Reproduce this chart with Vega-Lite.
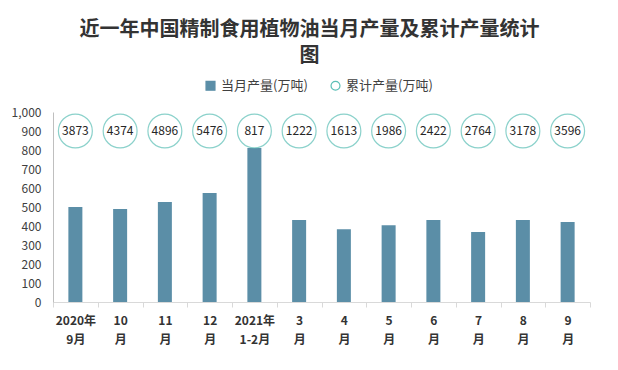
{
  "$schema": "https://vega.github.io/schema/vega-lite/v6.json",
  "width": 537,
  "height": 190,
  "autosize": "none",
  "padding": {"left": 53, "top": 112, "right": 28, "bottom": 68},
  "background": "white",
  "config": {
    "view": {"stroke": null},
    "font": "Noto Sans CJK SC",
    "axisY": {
      "title": null,
      "format": ",.0f",
      "grid": false,
      "ticks": false,
      "labelFont": "Noto Sans CJK SC",
      "labelFontSize": 12,
      "labelColor": "#404040",
      "labelPadding": 12,
      "domainColor": "#bfbfbf"
    }
  },
  "title": {
    "text": ["近一年中国精制食用植物油当月产量及累计产量统计", "图"],
    "font": "Noto Sans CJK SC",
    "fontSize": 20,
    "fontWeight": "bold",
    "color": "#333333",
    "anchor": "middle",
    "frame": "group",
    "dx": -12,
    "offset": 13,
    "lineHeight": 26
  },
  "data": {
    "values": [
      {"month": "2020年|9月", "value": 500, "cum": 3873},
      {"month": "10|月", "value": 489, "cum": 4374},
      {"month": "11|月", "value": 526, "cum": 4896},
      {"month": "12|月", "value": 574, "cum": 5476},
      {"month": "2021年|1-2月", "value": 811, "cum": 817},
      {"month": "3|月", "value": 431, "cum": 1222},
      {"month": "4|月", "value": 383, "cum": 1613},
      {"month": "5|月", "value": 404, "cum": 1986},
      {"month": "6|月", "value": 431, "cum": 2422},
      {"month": "7|月", "value": 368, "cum": 2764},
      {"month": "8|月", "value": 431, "cum": 3178},
      {"month": "9|月", "value": 421, "cum": 3596}
    ]
  },
  "encoding": {
    "x": {
      "field": "month",
      "type": "nominal",
      "sort": null,
      "scale": {"paddingInner": 0, "paddingOuter": 0},
      "axis": {
        "title": null,
        "labelAngle": 0,
        "labelExpr": "split(datum.label, '|')",
        "labelFont": "Noto Sans CJK SC",
        "labelFontSize": 12,
        "labelFontWeight": "bold",
        "labelColor": "#333333",
        "labelLineHeight": 19,
        "labelPadding": 8,
        "tickBand": "extent",
        "tickColor": "#d9d9d9",
        "tickSize": 5,
        "domainColor": "#d9d9d9"
      }
    }
  },
  "layer": [
    {
      "mark": {"type": "bar", "width": 14, "color": "#5b8ea7"},
      "encoding": {
        "y": {
          "field": "value",
          "type": "quantitative",
          "scale": {"domain": [0, 1000]},
          "axis": {"values": [0, 100, 200, 300, 400, 500, 600, 700, 800, 900, 1000], "format": ",.0f"}
        },
        "color": {
          "datum": "当月产量(万吨)",
          "type": "nominal",
          "scale": {"domain": ["当月产量(万吨)", "累计产量(万吨)"], "range": ["#5b8ea7", "#5bbfb6"]},
          "legend": {
            "title": null,
            "orient": "none",
            "direction": "horizontal",
            "legendX": 151,
            "legendY": -33,
            "labelFont": "Noto Sans CJK SC",
            "labelFontSize": 13,
            "labelColor": "#404040",
            "symbolSize": 80,
            "columnPadding": 20,
            "labelOffset": 4,
            "encode": {
              "symbols": {
                "update": {
                  "shape": {"signal": "datum.value === '当月产量(万吨)' ? 'square' : 'circle'"},
                  "fillOpacity": {"signal": "datum.value === '当月产量(万吨)' ? 1 : 0"},
                  "stroke": {"signal": "datum.value === '当月产量(万吨)' ? '#5b8ea7' : '#5bbfb6'"},
                  "strokeWidth": {"value": 1.2}
                }
              }
            }
          }
        }
      }
    },
    {
      "mark": {"type": "point", "shape": "circle", "filled": true, "fill": "white", "stroke": "#5bbfb6", "strokeWidth": 1.2, "size": 1150},
      "encoding": {
        "y": {"datum": 900, "type": "quantitative", "axis": {"values": [0, 100, 200, 300, 400, 500, 600, 700, 800, 900, 1000], "format": ",.0f"}}
      }
    },
    {
      "mark": {"type": "text", "font": "Noto Sans CJK SC", "fontSize": 12, "color": "#262626", "baseline": "middle"},
      "encoding": {
        "y": {"datum": 900, "type": "quantitative", "axis": {"values": [0, 100, 200, 300, 400, 500, 600, 700, 800, 900, 1000], "format": ",.0f"}},
        "text": {"field": "cum", "type": "quantitative", "format": "d"}
      }
    }
  ]
}
